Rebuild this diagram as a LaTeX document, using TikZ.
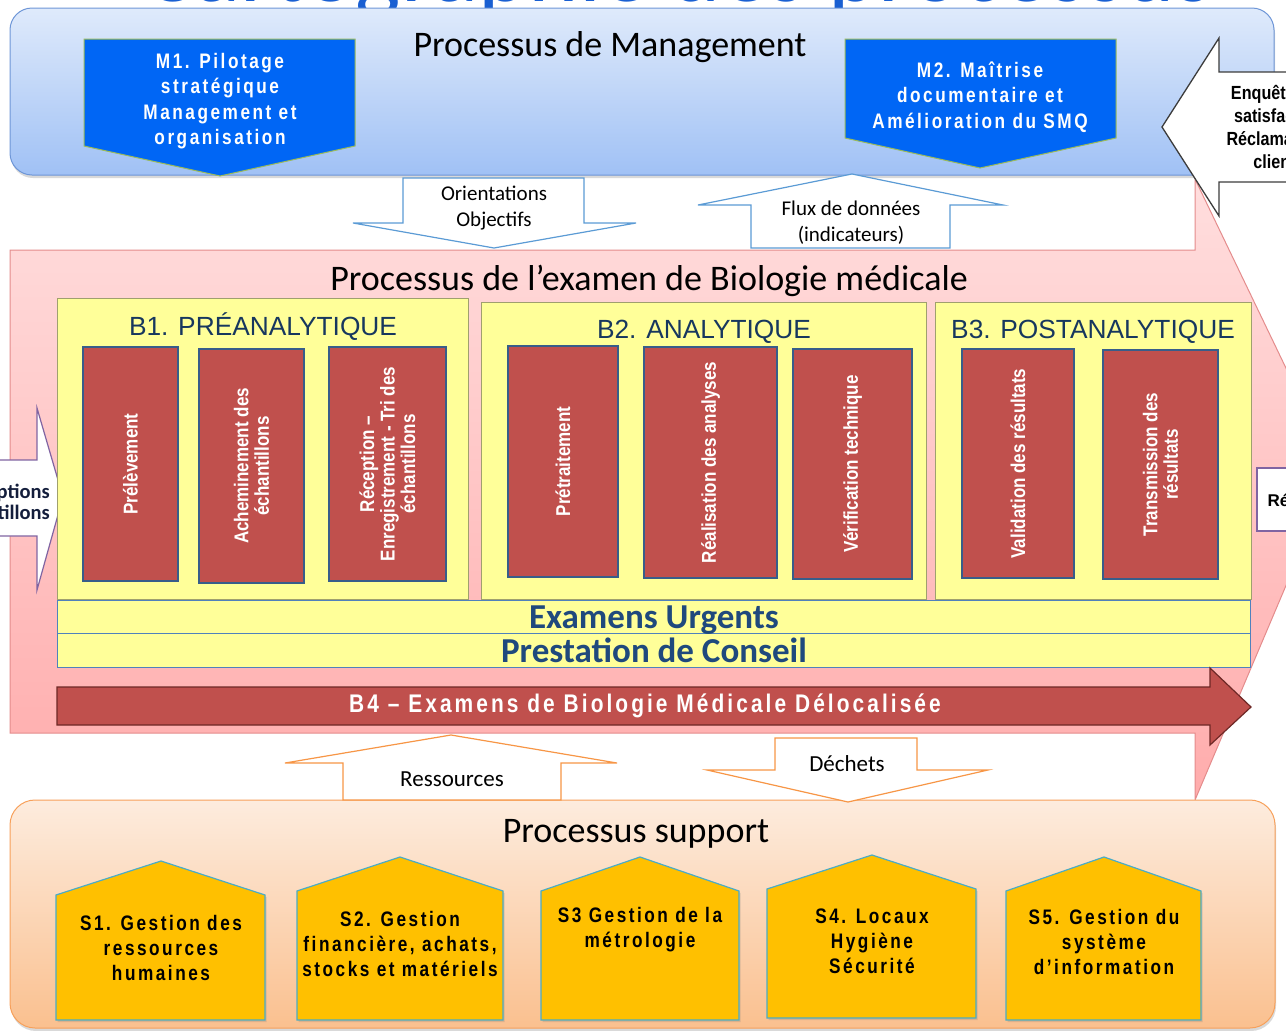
\documentclass[tikz,border=0pt]{standalone}
\usepackage{fontspec}
\setmainfont{Carlito}
\newfontfamily\arialf{Liberation Sans}
\newfontfamily\narrowf[FakeStretch=0.85]{Liberation Sans}
\newfontfamily\narrowsp[FakeStretch=0.82,LetterSpace=12]{Liberation Sans}
\usetikzlibrary{shadows}
\newcommand\fsz[2]{\fontsize{#1}{#2}\selectfont}
\definecolor{titleblue}{RGB}{25,95,210}
\definecolor{mgtop}{RGB}{223,234,251}
\definecolor{mgbot}{RGB}{160,193,245}
\definecolor{mgline}{RGB}{110,150,215}
\definecolor{mfill}{RGB}{0,102,245}
\definecolor{mline}{RGB}{155,187,89}
\definecolor{pinktop}{RGB}{255,222,222}
\definecolor{pinkbot}{RGB}{255,172,172}
\definecolor{pinkline}{RGB}{228,140,140}
\definecolor{yfill}{RGB}{255,255,153}
\definecolor{yline}{RGB}{160,160,110}
\definecolor{rfill}{RGB}{192,80,77}
\definecolor{rline}{RGB}{56,93,138}
\definecolor{dkblue}{RGB}{23,55,94}
\definecolor{bandline}{RGB}{79,129,189}
\definecolor{bandtext}{RGB}{31,73,125}
\definecolor{b4line}{RGB}{110,40,38}
\definecolor{arrblue}{RGB}{91,155,213}
\definecolor{arror}{RGB}{247,150,70}
\definecolor{suptop}{RGB}{253,236,222}
\definecolor{supbot}{RGB}{250,192,143}
\definecolor{supline}{RGB}{247,160,90}
\definecolor{sgold}{RGB}{255,192,0}
\definecolor{sline}{RGB}{75,172,198}
\definecolor{purpline}{RGB}{128,100,162}
\definecolor{enqline}{RGB}{60,60,60}
\definecolor{navytext}{RGB}{20,30,60}
\newcommand\redbox[6]{%
  \draw[rbox] (#1,#2) rectangle (#3,#4);
  \node[rtext] (#5) at ({(#1+#3)/2},{(#2+#4)/2}) {#6};}
\newcommand\house[9]{%
  \draw[houseshape] (#1,#6) -- (#1,#5) -- (#3,#4) -- (#2,#5) -- (#2,#6) -- cycle;
  \node[housetext] (#7) at (#3,#9) {#8};}
\begin{document}
\begin{tikzpicture}[x=1pt,y=-1pt,line join=miter,
  mshape/.style={draw=mline,fill=mfill,line width=1pt},
  mtext/.style={text=white,align=center,font=\narrowsp\bfseries\fsz{21}{25.5}},
  hollowblue/.style={draw=arrblue,fill=white,line width=1.2pt},
  hollowor/.style={draw=arror,fill=white,line width=1.2pt},
  smalltxt/.style={align=center,font=\fsz{21}{26}},
  ybox/.style={draw=yline,fill=yfill,line width=1pt},
  btitle/.style={anchor=base,text=dkblue,font=\arialf\fsz{26.3}{27}},
  rbox/.style={draw=rline,fill=rfill,line width=2pt},
  rtext/.style={rotate=90,text=white,align=center,font=\narrowf\bfseries\fsz{20}{20.5}},
  band/.style={draw=bandline,fill=yfill,line width=0.8pt},
  bandtxt/.style={anchor=base,text=bandtext,font=\bfseries\fsz{35}{35}},
  houseshape/.style={draw=sline,fill=sgold,line width=1.2pt,drop shadow={opacity=0.25,shadow xshift=1.5pt,shadow yshift=-2pt}},
  housetext/.style={align=center,font=\narrowsp\bfseries\fsz{21}{25}},
  bigtitle/.style={anchor=base,font=\fsz{36}{36},text=black}
]
\useasboundingbox (0,0) rectangle (1286,1031);
\clip (0,0) rectangle (1286,1031);

% cropped title
\node[anchor=base,text=titleblue,font=\fsz{96}{96},inner sep=0pt] (title) at (678,1) {Cartographie des processus};

% biology process (big pink arrow)
\draw[draw=pinkline,line width=1pt,top color=pinktop,bottom color=pinkbot]
  (10,250) -- (1195,250) -- (1195,179) -- (1335,470) -- (1195,800) -- (1195,733) -- (10,733) -- cycle;

% management box
\draw[draw=mgline,line width=1pt,top color=mgtop,bottom color=mgbot,rounded corners=22pt,
  drop shadow={opacity=0.3,shadow xshift=1pt,shadow yshift=-3pt}] (10,8) rectangle (1274,175);
\node[bigtitle] (mgt) at (610,56) {Processus de Management};

% Enquete arrow
\draw[draw=enqline,fill=white,line width=1.3pt]
  (1300,72) -- (1219,72) -- (1219,38) -- (1162,127) -- (1219,216) -- (1219,182) -- (1300,182);
\node[align=center,font=\narrowf\bfseries\fsz{19}{23}] (enq) at (1279,127) {Enquêtes de\\satisfaction\\Réclamations\\clients};

% M1, M2
\draw[mshape] (84,39) -- (355,39) -- (355,146) -- (220,176) -- (84,146) -- cycle;
\node[mtext] (m1) at (220,101) {M1. Pilotage\\stratégique\\Management et\\organisation};
\draw[mshape] (845,39) -- (1116,39) -- (1116,138) -- (980,168) -- (845,138) -- cycle;
\node[mtext] (m2) at (980,97) {M2. Maîtrise\\documentaire et\\Amélioration du SMQ};

% Orientations / Flux
\draw[hollowblue] (403,178) -- (584,178) -- (584,223) -- (636,223) -- (494,248) -- (353,223) -- (403,223) -- cycle;
\node[smalltxt] (ori) at (494,208) {Orientations\\Objectifs};
\draw[hollowblue] (852,174) -- (1003,205) -- (950,205) -- (950,248) -- (751,248) -- (751,205) -- (698,205) -- cycle;
\node[smalltxt] (flux) at (851,223) {Flux de données\\(indicateurs)};

\node[bigtitle] (bio) at (649,290) {Processus de l’examen de Biologie médicale};

% left input arrow
\draw[draw=purpline,fill=white,line width=1.2pt]
  (-10,460) -- (37,460) -- (37,408) -- (63,497) -- (37,590) -- (37,536) -- (-10,536);
\node[anchor=east,align=right,font=\bfseries\fsz{20.5}{19},text=navytext,inner sep=0pt] (pres) at (50,502) {Prescriptions\\Échantillons};

% right output box
\draw[draw=purpline,fill=white,line width=1.2pt] (1300,468) -- (1257,468) -- (1257,531) -- (1300,531);
\node[anchor=west,font=\arialf\bfseries\fsz{17}{17}] (res) at (1264,500) {Résultats};

% yellow groups
\draw[ybox] (57,298) rectangle (468,599);
\draw[ybox] (481,302) rectangle (926,599);
\draw[ybox] (935,302) rectangle (1251,599);
\node[btitle] (b1) at (263,335) {B1. PRÉANALYTIQUE};
\node[btitle] (b2) at (704,338) {B2. ANALYTIQUE};
\node[btitle] (b3) at (1093,338) {B3. POSTANALYTIQUE};

\redbox{83}{347}{178}{581}{r1}{Prélèvement}
\redbox{199}{349}{304}{583}{r2}{Acheminement des\\échantillons}
\redbox{329}{347}{446}{581}{r3}{Réception –\\Enregistrement - Tri des\\échantillons}
\redbox{508}{346}{618}{577}{r4}{Prétraitement}
\redbox{644}{347}{777}{578}{r5}{Réalisation des analyses}
\redbox{793}{349}{912}{579}{r6}{Vérification technique}
\redbox{962}{349}{1074}{578}{r7}{Validation des résultats}
\redbox{1103}{350}{1218}{579}{r8}{Transmission des\\résultats}

% bands
\draw[band] (57,600) rectangle (1250,633);
\draw[band] (57,633) rectangle (1250,667);
\node[bandtxt] (urg) at (654,628) {Examens Urgents};
\node[bandtxt] (cons) at (654,662) {Prestation de Conseil};

% B4 arrow
\draw[draw=b4line,fill=rfill,line width=1.2pt]
  (57,687) -- (1210,687) -- (1210,668) -- (1251,707) -- (1210,745) -- (1210,725) -- (57,725) -- cycle;
\node[text=white,font=\narrowsp\bfseries\fsz{25.5}{25.5}] (b4) at (645,706) {B4 – Examens de Biologie Médicale Délocalisée};

% support box
\draw[draw=supline,line width=1pt,top color=suptop,bottom color=supbot,rounded corners=25pt,
  drop shadow={opacity=0.3,shadow xshift=1pt,shadow yshift=-3pt}] (10,800) rectangle (1275,1028);
\node[bigtitle] (sup) at (636,842) {Processus support};

% Ressources / Dechets
\draw[hollowor] (451,735) -- (617,763) -- (561,763) -- (561,800) -- (343,800) -- (343,763) -- (285,763) -- cycle;
\node[anchor=base,font=\fsz{23}{23}] (ress) at (452,786) {Ressources};
\draw[hollowor] (775,738) -- (917,738) -- (917,770) -- (988,770) -- (848,802) -- (707,770) -- (775,770) -- cycle;
\node[anchor=base,font=\fsz{23}{23}] (dech) at (847,771) {Déchets};

% support houses
\house{56}{265}{161}{861}{895}{1020}{s1}{S1. Gestion des\\ressources\\humaines}{948}
\house{297}{503}{400}{857}{891}{1020}{s2}{S2. Gestion\\financière, achats,\\stocks et matériels}{944}
\house{541}{739}{640}{857}{891}{1020}{s3}{S3 Gestion de la\\métrologie}{930}
\house{767}{976}{872}{855}{889}{1018}{s4}{S4. Locaux\\Hygiène\\Sécurité}{941}
\house{1006}{1201}{1104}{857}{891}{1020}{s5}{S5. Gestion du\\système\\d’information}{942}
\end{tikzpicture}
\end{document}
